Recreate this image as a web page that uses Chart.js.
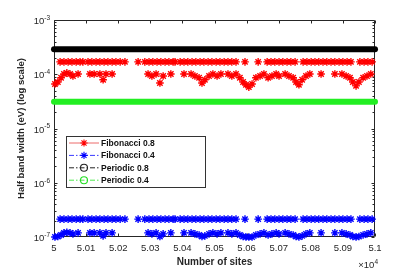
<!DOCTYPE html>
<html>
<head>
<meta charset="utf-8">
<script src="https://cdn.jsdelivr.net/npm/chart.js@4"></script>
<style>
  html, body { margin: 0; padding: 0; background: #fff; }
  #wrap { width: 415px; height: 271px; }
</style>
</head>
<body>
<div id="wrap"><canvas id="c"></canvas></div>
<script>
'use strict';
// ---- data ----
const seriesNames = ['Fibonacci 0.8', 'Fibonacci 0.4', 'Periodic 0.8', 'Periodic 0.4'];

const xTickValues = [50000, 50100, 50200, 50300, 50400, 50500, 50600, 50700, 50800, 50900, 51000];
const xTickLabels = ['5', '5.01', '5.02', '5.03', '5.04', '5.05', '5.06', '5.07', '5.08', '5.09', '5.1'];
const yTickValues = [1e-7, 1e-6, 1e-5, 1e-4, 1e-3];
const yTickExps = ['-7', '-6', '-5', '-4', '-3'];

// upper band of the Fibonacci chain
const fibUpperSites = [
  50019, 50031, 50044, 50056, 50069, 50081, 50090,
  50106, 50118, 50131, 50143, 50156, 50168, 50181, 50193, 50206,
  50221,
  50262,
  50283, 50296, 50308, 50321, 50333, 50346, 50358, 50371, 50377,
  50393, 50405, 50417, 50430, 50442, 50455, 50467,
  50480, 50492, 50505, 50517, 50530, 50542, 50554, 50567,
  50595,
  50636,
  50664, 50676, 50688, 50701, 50713, 50726, 50738, 50751,
  50776, 50788, 50801, 50813, 50825, 50838, 50850,
  50863, 50875, 50888, 50900, 50913, 50925,
  50953, 50966, 50978, 50991
];
const fib08Upper = [
  1.69e-4, 1.69e-4, 1.69e-4, 1.69e-4, 1.69e-4, 1.69e-4, 1.69e-4,
  1.69e-4, 1.69e-4, 1.69e-4, 1.69e-4, 1.69e-4, 1.69e-4, 1.69e-4, 1.69e-4, 1.69e-4,
  1.69e-4,
  1.69e-4,
  1.69e-4, 1.69e-4, 1.69e-4, 1.69e-4, 1.69e-4, 1.69e-4, 1.69e-4, 1.69e-4, 1.69e-4,
  1.69e-4, 1.69e-4, 1.69e-4, 1.69e-4, 1.69e-4, 1.69e-4, 1.69e-4,
  1.69e-4, 1.69e-4, 1.69e-4, 1.69e-4, 1.69e-4, 1.69e-4, 1.69e-4, 1.69e-4,
  1.69e-4,
  1.69e-4,
  1.69e-4, 1.69e-4, 1.69e-4, 1.69e-4, 1.69e-4, 1.69e-4, 1.69e-4, 1.69e-4,
  1.69e-4, 1.69e-4, 1.69e-4, 1.69e-4, 1.69e-4, 1.69e-4, 1.69e-4,
  1.69e-4, 1.69e-4, 1.69e-4, 1.69e-4, 1.69e-4, 1.69e-4,
  1.69e-4, 1.69e-4, 1.69e-4, 1.69e-4
];
const fib04Upper = [
  2.14e-7, 2.14e-7, 2.14e-7, 2.14e-7, 2.14e-7, 2.14e-7, 2.14e-7,
  2.14e-7, 2.14e-7, 2.14e-7, 2.14e-7, 2.14e-7, 2.14e-7, 2.14e-7, 2.14e-7, 2.14e-7,
  2.14e-7,
  2.14e-7,
  2.14e-7, 2.14e-7, 2.14e-7, 2.14e-7, 2.14e-7, 2.14e-7, 2.14e-7, 2.14e-7, 2.14e-7,
  2.14e-7, 2.14e-7, 2.14e-7, 2.14e-7, 2.14e-7, 2.14e-7, 2.14e-7,
  2.14e-7, 2.14e-7, 2.14e-7, 2.14e-7, 2.14e-7, 2.14e-7, 2.14e-7, 2.14e-7,
  2.14e-7,
  2.14e-7,
  2.14e-7, 2.14e-7, 2.14e-7, 2.14e-7, 2.14e-7, 2.14e-7, 2.14e-7, 2.14e-7,
  2.14e-7, 2.14e-7, 2.14e-7, 2.14e-7, 2.14e-7, 2.14e-7, 2.14e-7,
  2.14e-7, 2.14e-7, 2.14e-7, 2.14e-7, 2.14e-7, 2.14e-7,
  2.14e-7, 2.14e-7, 2.14e-7, 2.14e-7
];

// lower band of the Fibonacci chain
const fibLowerSites = [
  50003, 50012, 50022, 50031, 50040, 50050, 50059,
  50075,
  50112, 50125,
  50143, 50153, 50162,
  50181,
  50293, 50305, 50318, 50330, 50340,
  50364,
  50405,
  50427, 50439, 50452, 50461, 50470, 50483, 50495, 50508, 50520,
  50542, 50554, 50567, 50579, 50589, 50598, 50607, 50617, 50629, 50642, 50654, 50667, 50679, 50692, 50701,
  50720, 50732, 50745, 50754, 50763, 50773, 50785, 50797,
  50832,
  50875,
  50897, 50910, 50922, 50931, 50941, 50950, 50963, 50975, 50987
];
const fib08Lower = [
  6.6e-5, 7.2e-5, 8.6e-5, 1.01e-4, 1.06e-4, 1.01e-4, 9.3e-5,
  1.01e-4,
  1.01e-4, 1.01e-4,
  1.01e-4, 7.9e-5, 1.01e-4,
  1.01e-4,
  1.01e-4, 9.3e-5, 1.01e-4, 6.9e-5, 9.3e-5,
  1.01e-4,
  1.01e-4,
  1.01e-4, 9.3e-5, 8.6e-5, 6.9e-5, 7.9e-5, 9.3e-5, 1.01e-4, 9.3e-5, 1.01e-4,
  1.01e-4, 9.3e-5, 1.01e-4, 8.6e-5, 7.2e-5, 6.4e-5, 5.8e-5, 6.6e-5, 8.6e-5, 9.3e-5, 1.01e-4, 8.6e-5, 9.3e-5, 1.01e-4, 9.3e-5,
  1.01e-4, 9.3e-5, 8.6e-5, 7.2e-5, 6.4e-5, 7.9e-5, 9.3e-5, 1.01e-4,
  1.01e-4,
  1.01e-4,
  1.01e-4, 9.3e-5, 8.6e-5, 7.2e-5, 6.1e-5, 7.2e-5, 8.6e-5, 9.3e-5, 1.01e-4
];
const fib04Lower = [
  1.0e-7, 1.02e-7, 1.09e-7, 1.19e-7, 1.22e-7, 1.19e-7, 1.14e-7,
  1.19e-7,
  1.19e-7, 1.19e-7,
  1.19e-7, 1.05e-7, 1.19e-7,
  1.19e-7,
  1.19e-7, 1.14e-7, 1.19e-7, 1.02e-7, 1.14e-7,
  1.19e-7,
  1.19e-7,
  1.19e-7, 1.14e-7, 1.09e-7, 1.02e-7, 1.05e-7, 1.14e-7, 1.19e-7, 1.14e-7, 1.19e-7,
  1.19e-7, 1.14e-7, 1.19e-7, 1.09e-7, 1.02e-7, 1.0e-7, 1.0e-7, 1.0e-7, 1.09e-7, 1.14e-7, 1.19e-7, 1.09e-7, 1.14e-7, 1.19e-7, 1.14e-7,
  1.19e-7, 1.14e-7, 1.09e-7, 1.02e-7, 1.0e-7, 1.05e-7, 1.14e-7, 1.19e-7,
  1.19e-7,
  1.19e-7,
  1.19e-7, 1.14e-7, 1.09e-7, 1.02e-7, 1.0e-7, 1.02e-7, 1.09e-7, 1.14e-7, 1.19e-7
];

// periodic chains: flat over the whole range
const periodicSites = [50000, 51000];
const periodic08 = [2.9e-4, 2.9e-4];
const periodic04 = [3.1e-5, 3.1e-5];

// ---- build ----
const FONT = "'Liberation Sans', Arial, Helvetica, sans-serif";
const TXT = '#262626';

function pts(sites, vals) {
    return sites.map((s, i) => ({ x: s, y: vals[i] }));
}

function drawStar(ctx, cx, cy, s) {
    const d = s * 0.7;
    ctx.moveTo(cx - s, cy); ctx.lineTo(cx + s, cy);
    ctx.moveTo(cx, cy - s); ctx.lineTo(cx, cy + s);
    ctx.moveTo(cx - d, cy - d); ctx.lineTo(cx + d, cy + d);
    ctx.moveTo(cx - d, cy + d); ctx.lineTo(cx + d, cy - d);
}

const matlabAxes = {
    id: 'matlabAxes',
    beforeDatasetsDraw(chart) {
        const { ctx, chartArea: a, scales: { x, y } } = chart;
        const L = Math.round(a.left) + 0.5, R = Math.round(a.right) - 0.5;
        const T = Math.round(a.top) + 0.5, B = Math.round(a.bottom) - 0.5;
        ctx.save();
        ctx.strokeStyle = TXT;
        ctx.lineWidth = 1;
        ctx.beginPath();
        ctx.rect(L, T, R - L, B - T);
        // x ticks (inward, bottom and top)
        xTickValues.forEach(v => {
            const px = Math.round(x.getPixelForValue(v)) + 0.5;
            ctx.moveTo(px, B); ctx.lineTo(px, B - 3);
            ctx.moveTo(px, T); ctx.lineTo(px, T + 3);
        });
        // y major + minor ticks
        yTickValues.forEach((d, i) => {
            const py = Math.round(y.getPixelForValue(d)) + 0.5;
            ctx.moveTo(L, py); ctx.lineTo(L + 3, py);
            ctx.moveTo(R, py); ctx.lineTo(R - 3, py);
            if (i < yTickValues.length - 1) {
                for (let m = 2; m <= 9; m++) {
                    const pm = Math.round(y.getPixelForValue(d * m)) + 0.5;
                    ctx.moveTo(L, pm); ctx.lineTo(L + 2, pm);
                    ctx.moveTo(R, pm); ctx.lineTo(R - 2, pm);
                }
            }
        });
        ctx.stroke();
        ctx.restore();
    },
    afterDraw(chart) {
        const { ctx, chartArea: a, scales: { y } } = chart;
        ctx.save();
        ctx.fillStyle = TXT;
        ctx.textBaseline = 'middle';
        // y tick labels 10^n
        yTickValues.forEach((v, i) => {
            const py = y.getPixelForValue(v);
            ctx.font = '6.5px ' + FONT;
            const ew = ctx.measureText(yTickExps[i]).width;
            const xe = a.left - 4;
            ctx.textAlign = 'right';
            ctx.fillText(yTickExps[i], xe, py - 2);
            ctx.font = '9.5px ' + FONT;
            ctx.fillText('10', xe - ew, py + 1.5);
        });
        // x10^4 multiplier
        ctx.font = '6.5px ' + FONT;
        ctx.textAlign = 'right';
        ctx.fillText('4', a.right + 3, 262);
        const w4 = ctx.measureText('4').width;
        ctx.font = '9.5px ' + FONT;
        ctx.fillText('\u00d710', a.right + 3 - w4, 265.5);

        // legend
        const bx = 66.5, by = 136.5, bw = 139, bh = 51;
        ctx.fillStyle = '#fff';
        ctx.fillRect(bx, by, bw, bh);
        ctx.strokeStyle = '#333';
        ctx.lineWidth = 1;
        ctx.setLineDash([]);
        ctx.strokeRect(bx, by, bw, bh);
        const rows = [
            { line: '#ec6a6a', dash: [], marker: 'star', mc: '#ff0000' },
            { line: '#3a3aff', dash: [5, 2, 1.5, 2], marker: 'star', mc: '#0000ff' },
            { line: '#222', dash: [5, 2, 1.5, 2], marker: 'circle', mc: '#222' },
            { line: '#4eea4e', dash: [5, 2, 1.5, 2], marker: 'circle', mc: '#22dd22' }
        ];
        rows.forEach((r, i) => {
            const ry = 143 + i * 12.4;
            ctx.strokeStyle = r.line;
            ctx.lineWidth = 1;
            ctx.setLineDash(r.dash);
            ctx.beginPath();
            ctx.moveTo(69, ry); ctx.lineTo(99, ry);
            ctx.stroke();
            ctx.setLineDash([]);
            ctx.strokeStyle = r.mc;
            ctx.lineWidth = 1.1;
            ctx.beginPath();
            if (r.marker === 'star') {
                drawStar(ctx, 84, ry, 3.6);
            } else {
                ctx.arc(84, ry, 3.5, 0, Math.PI * 2);
            }
            ctx.stroke();
            ctx.fillStyle = '#111';
            ctx.font = 'bold 8.5px ' + FONT;
            ctx.textAlign = 'left';
            ctx.fillText(seriesNames[i], 101, ry + 0.5);
        });
        ctx.restore();
    }
};

new Chart(document.getElementById('c'), {
    type: 'scatter',
    data: {
        datasets: [
            {
                label: seriesNames[0],
                data: pts(fibUpperSites, fib08Upper).concat(pts(fibLowerSites, fib08Lower)),
                pointStyle: 'star', pointRadius: 3.8, pointBorderWidth: 1.4,
                pointBorderColor: '#ff0000', pointBackgroundColor: '#ff0000', clip: false
            },
            {
                label: seriesNames[1],
                data: pts(fibUpperSites, fib04Upper).concat(pts(fibLowerSites, fib04Lower)),
                pointStyle: 'star', pointRadius: 3.8, pointBorderWidth: 1.4,
                pointBorderColor: '#0000ff', pointBackgroundColor: '#0000ff', clip: false
            },
            {
                label: seriesNames[2],
                data: pts(periodicSites, periodic08),
                showLine: true, borderWidth: 6, borderCapStyle: 'round', pointRadius: 0,
                borderColor: '#000', backgroundColor: '#000', clip: false
            },
            {
                label: seriesNames[3],
                data: pts(periodicSites, periodic04),
                showLine: true, borderWidth: 6, borderCapStyle: 'round', pointRadius: 0,
                borderColor: '#22ee22', backgroundColor: '#22ee22', clip: false
            }
        ]
    },
    options: {
        responsive: true,
        maintainAspectRatio: false,
        animation: false,
        devicePixelRatio: 1,
        layout: { padding: { top: 20, right: 40, left: 0, bottom: 0 } },
        plugins: { legend: { display: false }, tooltip: { enabled: false } },
        scales: {
            x: {
                type: 'linear', min: 50000, max: 51000,
                afterBuildTicks: s => { s.ticks = xTickValues.map(v => ({ value: v })); },
                afterFit: s => { s.height = 34; },
                grid: { display: false, drawTicks: false },
                border: { display: false },
                ticks: {
                    autoSkip: false, maxRotation: 0, padding: 6,
                    color: TXT, font: { family: FONT, size: 9.5 },
                    callback: (v, i) => xTickLabels[i]
                },
                title: {
                    display: true, text: 'Number of sites', color: TXT,
                    font: { family: FONT, size: 10, weight: 'bold' },
                    padding: { top: 0, bottom: 3 }
                }
            },
            y: {
                type: 'logarithmic', min: 1e-7, max: 1e-3,
                afterBuildTicks: s => { s.ticks = yTickValues.map(v => ({ value: v })); },
                afterFit: s => { s.width = 54; },
                grid: { display: false, drawTicks: false },
                border: { display: false },
                ticks: { display: false },
                title: {
                    display: true, text: 'Half band width (eV) (log scale)', color: TXT,
                    font: { family: FONT, size: 9.5, weight: 'bold' },
                    padding: { top: 16, bottom: 0 }
                }
            }
        }
    },
    plugins: [matlabAxes]
});
</script>
</body>
</html>
